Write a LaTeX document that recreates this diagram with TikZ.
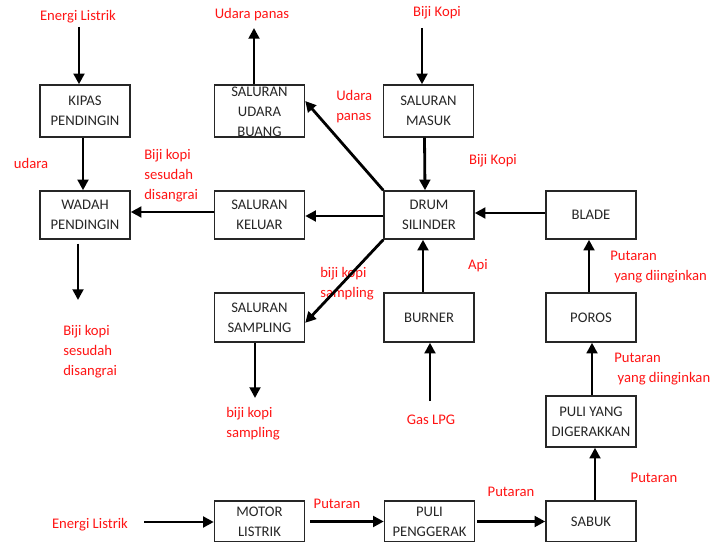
\documentclass[tikz,border=0pt]{standalone}
\usepackage{fontspec}
\setmainfont{Carlito}
\usetikzlibrary{arrows.meta}
\definecolor{lbl}{RGB}{255,20,20}
\definecolor{boxtext}{RGB}{38,38,38}
\begin{document}
\begin{tikzpicture}[x=0.75pt,y=-0.75pt,
  every node/.style={font=\fontsize{11}{15}\selectfont, inner sep=0pt},
  box/.style={draw=black!85, line width=1.1pt, minimum width=67.5pt, text=boxtext, align=center},
  bh/.style={minimum height=#1*0.75pt},
  lab/.style={text=lbl, align=left},
  labc/.style={text=lbl, align=center},
  arr/.style={line width=2.1pt, -{Triangle[length=8pt,width=8pt]}}]
\useasboundingbox (0,0) rectangle (711,542);
% boxes
\node[box,bh=52] (kipas) at (85,111) {KIPAS\\PENDINGIN};
\node[box,bh=48] (wadah) at (85,215) {WADAH\\PENDINGIN};
\node[box,bh=52] (buang) at (259.5,111) {};
\node[text=boxtext, align=center] (buangtext) at (259.5,112) {SALURAN\\UDARA\\BUANG};
\node[box,bh=48] (keluar) at (259.5,215) {SALURAN\\KELUAR};
\node[box,bh=52] (masuk) at (428.5,111) {SALURAN\\MASUK};
\node[box,bh=48] (drum) at (429,215) {DRUM\\SILINDER};
\node[box,bh=48] (blade) at (591,215) {BLADE};
\node[box,bh=49] (sampling) at (259.5,317.5) {SALURAN\\SAMPLING};
\node[box,bh=49] (burner) at (429,317.5) {BURNER};
\node[box,bh=49] (poros) at (591,317.5) {POROS};
\node[box,bh=51] (puliyang) at (591,421.5) {PULI YANG\\DIGERAKKAN};
\node[box,bh=41] (motor) at (259.5,521.5) {MOTOR\\LISTRIK};
\node[box,bh=41] (puli) at (429.5,521.5) {PULI\\PENGGERAK};
\node[box,bh=41] (sabuk) at (591,521.5) {SABUK};
% labels
\node[labc] (tEnergi1) at (78,17) {Energi Listrik};
\node[labc] (tUdara1) at (252,15) {Udara panas};
\node[labc] (tBiji1) at (437,13) {Biji Kopi};
\node[labc] (tUdara) at (31,163) {udara};
\node[lab, anchor=west] (tSesudah1) at (144,176) {Biji kopi\\sesudah\\disangrai};
\node[lab, anchor=west] (tUdara2) at (336,107) {Udara\\panas};
\node[labc] (tBiji2) at (493,161) {Biji Kopi};
\node[labc] (tApi) at (478,266) {Api};
\node[lab, anchor=west] (tSamp1) at (320,284) {biji kopi\\sampling};
\node[lab, anchor=west] (tPut1) at (610,267) {Putaran\\\hspace*{3pt}yang diinginkan};
\node[lab, anchor=west] (tPut2) at (614,369.5) {Putaran\\\hspace*{2.5pt}yang diinginkan};
\node[lab, anchor=west] (tSesudah2) at (63,352) {Biji kopi\\sesudah\\disangrai};
\node[lab, anchor=west] (tSamp2) at (226,424) {biji kopi\\sampling};
\node[labc] (tGas) at (431,420) {Gas LPG};
\node[labc] (tPut3) at (654,478) {Putaran};
\node[labc] (tPut4) at (511,492) {Putaran};
\node[labc] (tPut5) at (337,504) {Putaran};
\node[labc] (tEnergi2) at (90,525) {Energi Listrik};
% free ends
\coordinate (e1) at (79,27);
\coordinate (w1) at (78,300);
\coordinate (u1) at (254,28);
\coordinate (m1) at (422,28);
\coordinate (s1) at (255,398);
\coordinate (g1) at (430,401);
\coordinate (e2) at (144,522);
% connectors
\draw[arr] (e1) -- (e1 |- kipas.north);
\draw[arr] ([xshift=-1.5pt]kipas.south) -- ([xshift=-1.5pt]wadah.north);
\draw[arr, shorten <=3pt] (wadah.south -| w1) -- (w1);
\draw[arr] (buang.north -| u1) -- (u1);
\draw[arr] (m1) -- (m1 |- masuk.north);
\draw[arr] ([xshift=-3pt]masuk.south) -- ([xshift=-3pt]drum.north);
\draw[arr] (drum.north west) -- ([yshift=7.5pt]buang.east);
\draw[arr] ([yshift=-0.75pt]drum.west) -- ([yshift=-0.75pt]keluar.east);
\draw[arr] ([yshift=2.25pt]keluar.west) -- ([yshift=2.25pt]wadah.east);
\draw[arr] (drum.south west) -- ([yshift=-4pt]sampling.east);
\draw[arr] (sampling.south -| s1) -- (s1);
\draw[arr] ([xshift=-4.5pt]burner.north) -- ([xshift=-4.5pt]drum.south);
\draw[arr] (g1) -- (g1 |- burner.south);
\draw[arr] ([yshift=1.5pt]blade.west) -- ([yshift=1.5pt]drum.east);
\draw[arr] ([xshift=-1.5pt]poros.north) -- ([xshift=-1.5pt]blade.south);
\draw[arr] ([xshift=0.75pt]puliyang.north) -- ([xshift=0.75pt]poros.south);
\draw[arr] ([xshift=3pt]sabuk.north) -- ([xshift=3pt]puliyang.south);
\draw[arr] (e2) -- (e2 -| motor.west);
\draw[arr, shorten <=3.75pt] (motor.east) -- (puli.west);
\draw[arr, shorten <=1.5pt] (puli.east) -- (sabuk.west);
\end{tikzpicture}
\end{document}
